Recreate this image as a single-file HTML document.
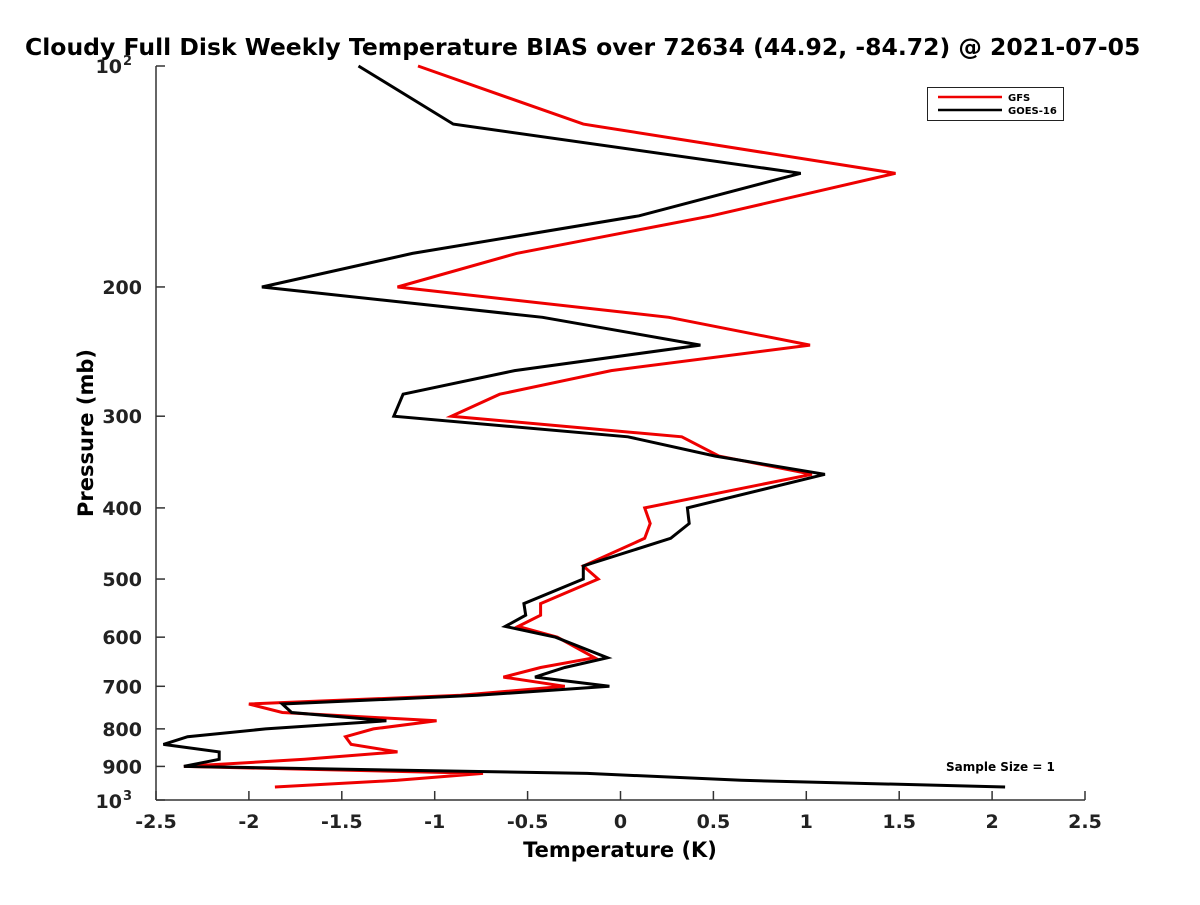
<!DOCTYPE html>
<html><head><meta charset="utf-8"><style>
body{margin:0;background:#fff;width:1200px;height:900px;overflow:hidden}
svg text{font-family:"DejaVu Sans","Liberation Sans",sans-serif;font-weight:bold}
</style></head><body>
<svg id="chart" width="1200" height="900" xmlns="http://www.w3.org/2000/svg">
<text x="25" y="55" font-size="23.5" fill="#000">Cloudy Full Disk Weekly Temperature BIAS over 72634 (44.92, -84.72) @ 2021-07-05</text>
<g id="axes"></g>
<g id="series"></g>
<g>
<rect x="927.5" y="87.5" width="136" height="33" fill="#fff" stroke="#222" stroke-width="1"/>
<line x1="938" y1="97" x2="1002" y2="97" stroke="#e00" stroke-width="2.5"/>
<text x="1008" y="101" font-size="10">GFS</text>
<line x1="938" y1="110" x2="1002" y2="110" stroke="#000" stroke-width="2.5"/>
<text x="1008" y="114" font-size="10">GOES-16</text>
</g>
<text x="946" y="771" font-size="12">Sample Size = 1</text>
<text x="620" y="857" font-size="21" text-anchor="middle">Temperature (K)</text>
<text transform="translate(93,433) rotate(-90)" font-size="21" text-anchor="middle">Pressure (mb)</text>
</svg>
<script>
const levels=[100,120,140,160,180,200,220,240,260,280,300,320,340,360,400,420,440,480,500,540,560,580,600,640,660,680,700,720,740,760,780,800,820,840,860,880,900,920,940,960];
const gfsBias=[-1.09,-0.20,1.48,0.49,-0.56,-1.20,0.26,1.02,-0.05,-0.65,-0.91,0.33,0.53,1.03,0.13,0.16,0.13,-0.20,-0.12,-0.43,-0.43,-0.55,-0.34,-0.14,-0.43,-0.63,-0.30,-0.86,-2.00,-1.82,-0.99,-1.33,-1.48,-1.45,-1.20,-1.70,-2.35,-0.74,-1.20,-1.86];
const goesBias=[-1.41,-0.90,0.97,0.10,-1.12,-1.93,-0.42,0.43,-0.57,-1.17,-1.22,0.04,0.51,1.10,0.36,0.37,0.27,-0.20,-0.20,-0.52,-0.51,-0.62,-0.35,-0.07,-0.30,-0.46,-0.06,-0.77,-1.82,-1.77,-1.26,-1.91,-2.33,-2.46,-2.16,-2.16,-2.35,-0.18,0.65,2.07];
const xTicks=[-2.5,-2,-1.5,-1,-0.5,0,0.5,1,1.5,2,2.5];
const xTickLabels=["-2.5","-2","-1.5","-1","-0.5","0","0.5","1","1.5","2","2.5"];
const yTicks=[200,300,400,500,600,700,800,900];
const yTickLabels=["200","300","400","500","600","700","800","900"];
const L=156,R=1085,T=66,B=800;
const xs=v=>L+(v+2.5)/5*(R-L);
const ys=p=>T+Math.log10(p/100)*(B-T);
const NS="http://www.w3.org/2000/svg";
function mk(tag,attrs,parent){const e=document.createElementNS(NS,tag);for(const k in attrs)e.setAttribute(k,attrs[k]);parent.appendChild(e);return e;}
const ax=document.getElementById('axes');
let a=mk('line',{x1:L,y1:T,x2:L,y2:B,stroke:'#333','stroke-width':1.5},ax);


a=mk('line',{x1:L,y1:B,x2:R,y2:B,stroke:'#333','stroke-width':1.5},ax);


xTicks.forEach((v,i)=>{
 const t=mk('line',{x1:xs(v),y1:B,x2:xs(v),y2:B-9,stroke:'#333','stroke-width':1.5},ax);
 
 
 const l=mk('text',{x:xs(v),y:B+28,'font-size':19,'text-anchor':'middle',fill:'#222'},ax);
 l.textContent=xTickLabels[i];
 
 
});
[100,1000].concat(yTicks).forEach(p=>{
 const t=mk('line',{x1:L,y1:ys(p),x2:L+9,y2:ys(p),stroke:'#333','stroke-width':1.5},ax);
 
 
});
yTicks.forEach((p,i)=>{
 const l=mk('text',{x:L-14,y:ys(p)+7,'font-size':19,'text-anchor':'end',fill:'#222'},ax);
 l.textContent=yTickLabels[i];
 
 
});
[[100,'2'],[1000,'3']].forEach(d=>{
 const l=mk('text',{x:L-34,y:ys(d[0])+(d[0]==100?7:8),'font-size':19,'text-anchor':'end',fill:'#222'},ax);
 l.textContent='10';
 
 
 const s=mk('text',{x:L-33,y:ys(d[0])+(d[0]==100?-1:0),'font-size':13,fill:'#222'},ax);
 s.textContent=d[1];
 
 
});
const sg=document.getElementById('series');
function line(vals,color,name){
 const pts=vals.map((v,i)=>xs(v).toFixed(1)+','+ys(levels[i]).toFixed(1)).join(' ');
 const p=mk('polyline',{points:pts,fill:'none',stroke:color,'stroke-width':3,'stroke-linejoin':'miter'},sg);
 
 
}
line(gfsBias,'#e00','gfs-line');
line(goesBias,'#000','goes16-line');
</script>
</body></html>
